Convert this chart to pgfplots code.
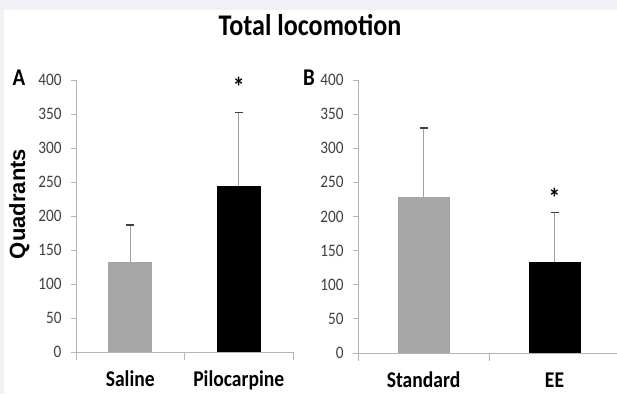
\documentclass[border=0pt]{standalone}
\usepackage{pgfplots}
\pgfplotsset{compat=1.18}
\usepackage{fontspec}
\setmainfont{Carlito}[FakeStretch=0.87]
\newfontfamily\arialfamily{Liberation Sans}
\definecolor{bg}{HTML}{EFF1F6}
\definecolor{barg}{HTML}{A6A6A6}
\definecolor{axg}{HTML}{B5B5B5}
\definecolor{tickc}{HTML}{404040}
\definecolor{errg}{HTML}{A0A0A0}
\pgfplotsset{
  panel/.style={
    ybar, bar shift=0pt, scale only axis, anchor=south west,
    xmin=-0.5, xmax=1.5, ymin=0, ymax=400,
    axis lines*=left, axis line style={axg, line width=0.9pt},
    ytick={0,50,...,400}, xtick={0,1}, minor xtick={-0.5,0.5,1.5},
    tick align=outside, major tick length=5pt, minor tick length=8pt,
    tick style={axg, line width=0.9pt},
    major x tick style={draw=none},
    yticklabel style={font=\fontsize{17.5}{19}\selectfont, text=tickc, xshift=-6pt},
    xticklabel style={font=\fontsize{22.5}{24}\selectfont\bfseries, text=black, anchor=base, yshift=-29.5pt},
    /pgf/number format/assume math mode=true,
    error bars/y dir=plus, error bars/y explicit,
    error bars/error bar style={errg, line width=1.3pt},
    error bars/error mark options={tickc, rotate=90, mark size=4pt, line width=1.5pt},
    clip=false,
  }
}
\begin{document}
\begin{tikzpicture}[x=1pt,y=1pt]
\useasboundingbox (0,0) rectangle (617,394);
\fill[bg] (0,0) rectangle (617,394);
\fill[white] (4,0) rectangle (617,384);
\begin{scope}
\clip (0,0) rectangle (617,394);
\begin{axis}[panel, at={(76pt,42pt)}, width=217pt, height=272pt, bar width=44pt,
  xticklabels={Saline,Pilocarpine}]
\addplot[fill=barg, draw=none] coordinates {(0,133) +- (0,54)};
\addplot[fill=black, draw=none] coordinates {(1,244) +- (0,108)};
\node[font=\fontsize{27}{28}\selectfont\bfseries] at (axis cs:1,390) {*};
\end{axis}
\begin{axis}[panel, at={(358pt,41pt)}, width=262pt, height=273pt, bar width=52pt,
  xticklabels={Standard,EE}]
\addplot[fill=barg, draw=none] coordinates {(0,228) +- (0,102)};
\addplot[fill=black, draw=none] coordinates {(1,134) +- (0,72)};
\node[font=\fontsize{27}{28}\selectfont\bfseries] at (axis cs:1,227) {*};
\end{axis}
\end{scope}
\node[font=\fontsize{30}{32}\selectfont\bfseries, anchor=base] at (310,358) {Total locomotion};
\node[font=\fontsize{24}{26}\selectfont\bfseries, anchor=base] at (19,308) {A};
\node[font=\fontsize{24}{26}\selectfont\bfseries, anchor=base] at (309,308) {B};
\node[rotate=90, anchor=base, font=\arialfamily\bfseries\fontsize{22}{24}\selectfont] at (25,190) {Quadrants};
\end{tikzpicture}
\end{document}
